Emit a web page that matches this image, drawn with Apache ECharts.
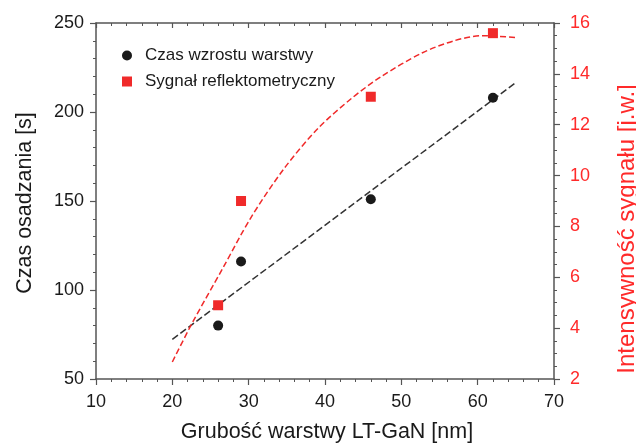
<!DOCTYPE html>
<html>
<head>
<meta charset="utf-8">
<script src="https://cdn.jsdelivr.net/npm/echarts@6/dist/echarts.min.js"></script>
<style>html,body{margin:0;padding:0;background:#fff}#c{width:636px;height:446px}</style>
</head>
<body>
<div id="c"></div>
<script>
// Data
const thickness = [26, 29, 46, 62];            // Grubość warstwy LT-GaN [nm]
const growthTime = [80, 116, 151, 208];        // Czas osadzania [s]
const reflSignal = [4.9, 9.0, 13.1, 15.6];     // Intensywność sygnału [j.w.]
const linFitX = [20, 65];
const linFitY = [72.3, 216.5];
const curveX = [20, 22.6, 26.6, 30.3, 34.7, 39.1, 43.5, 47.4, 52.7, 57, 60.6, 65];
const curveY = [2.67, 4.2, 6.35, 8.35, 10.3, 11.86, 13.04, 13.9, 14.82, 15.31, 15.5, 15.43];
const seriesNames = ['Czas wzrostu warstwy', 'Sygnał reflektometryczny'];
const xName = 'Grubość warstwy LT-GaN [nm]';
const yLeftName = 'Czas osadzania [s]';
const yRightName = 'Intensywność sygnału [j.w.]';

const FONT = '"Liberation Sans", Arial, sans-serif';
const RED = '#f02a2a';
const RED_TXT = '#ff2a2a';
const AX = '#555';
const TXT = '#1a1a1a';

const zip = (a, b) => a.map((v, i) => [v, b[i]]);

const chart = echarts.init(document.getElementById('c'), null, {renderer: 'canvas'});
chart.setOption({
  animation: false,
  backgroundColor: '#fff',
  textStyle: {fontFamily: FONT},
  grid: {left: 96, right: 82, top: 23, bottom: 67},
  legend: {
    orient: 'vertical', left: 117, top: 42, itemWidth: 10, itemHeight: 10, itemGap: 9,
    textStyle: {fontSize: 17, color: TXT, fontFamily: FONT, lineHeight: 17, padding: [0, 0, 0, 8]},
    data: [{name: seriesNames[0], icon: 'circle'}, {name: seriesNames[1], icon: 'rect'}]
  },
  xAxis: [{
    type: 'value', min: 10, max: 70, interval: 10, position: 'bottom',
    axisLine: {lineStyle: {color: AX, width: 1.5}},
    axisTick: {inside: false, length: 6, lineStyle: {color: AX, width: 1.2}},
    minorTick: {show: true, splitNumber: 5, length: 3, lineStyle: {color: AX, width: 1}},
    axisLabel: {fontSize: 18, color: TXT, margin: 14, fontFamily: FONT},
    splitLine: {show: false}
  }, {
    type: 'value', min: 10, max: 70, interval: 10, position: 'top',
    axisLine: {lineStyle: {color: AX, width: 1.5}},
    axisTick: {inside: true, length: 5, lineStyle: {color: AX, width: 1.2}},
    minorTick: {show: true, splitNumber: 5, length: 3, lineStyle: {color: AX, width: 1}},
    axisLabel: {show: false},
    splitLine: {show: false}
  }],
  yAxis: [{
    type: 'value', min: 50, max: 250, interval: 50, position: 'left',
    axisLine: {show: true, lineStyle: {color: AX, width: 1.5}},
    axisTick: {show: true, inside: false, length: 6, lineStyle: {color: AX, width: 1.2}},
    minorTick: {show: true, splitNumber: 5, length: 3, lineStyle: {color: AX, width: 1}},
    axisLabel: {fontSize: 18, color: TXT, margin: 12, fontFamily: FONT},
    splitLine: {show: false}
  }, {
    type: 'value', min: 2, max: 16, interval: 2, position: 'right',
    axisLine: {show: true, lineStyle: {color: AX, width: 1.5}},
    axisTick: {show: true, inside: false, length: 6, lineStyle: {color: AX, width: 1.2}},
    minorTick: {show: true, splitNumber: 4, length: 3, lineStyle: {color: AX, width: 1}},
    axisLabel: {fontSize: 18, color: RED_TXT, margin: 16, fontFamily: FONT},
    splitLine: {show: false}
  }],
  graphic: [
    {type: 'text', x: 327, y: 432, style: {text: xName, fontSize: 21.5, fontFamily: FONT, fill: TXT, align: 'center', verticalAlign: 'middle'}},
    {type: 'text', x: 25, y: 203, rotation: Math.PI / 2, style: {text: yLeftName, fontSize: 21.5, fontFamily: FONT, fill: TXT, align: 'center', verticalAlign: 'middle'}},
    {type: 'text', x: 627, y: 229, rotation: Math.PI / 2, style: {text: yRightName, fontSize: 24, fontFamily: FONT, fill: RED_TXT, align: 'center', verticalAlign: 'middle'}}
  ],
  series: [
    {type: 'line', name: 'fit1', xAxisIndex: 0, yAxisIndex: 0, data: zip(linFitX, linFitY), symbol: 'none',
     lineStyle: {color: '#333', width: 1.5, type: [7, 3]}, silent: true, z: 2},
    {type: 'line', name: 'fit2', xAxisIndex: 0, yAxisIndex: 1, data: zip(curveX, curveY), symbol: 'none', smooth: 0.3,
     lineStyle: {color: RED, width: 1.5, type: [6, 3]}, silent: true, z: 2},
    {type: 'scatter', name: seriesNames[0], xAxisIndex: 0, yAxisIndex: 0, data: zip(thickness, growthTime),
     symbol: 'circle', symbolSize: 10, itemStyle: {color: '#1a1a1a', opacity: 1}, z: 3},
    {type: 'scatter', name: seriesNames[1], xAxisIndex: 0, yAxisIndex: 1, data: zip(thickness, reflSignal),
     symbol: 'rect', symbolSize: 10, itemStyle: {color: RED, opacity: 1}, z: 3}
  ]
});
</script>
</body>
</html>
